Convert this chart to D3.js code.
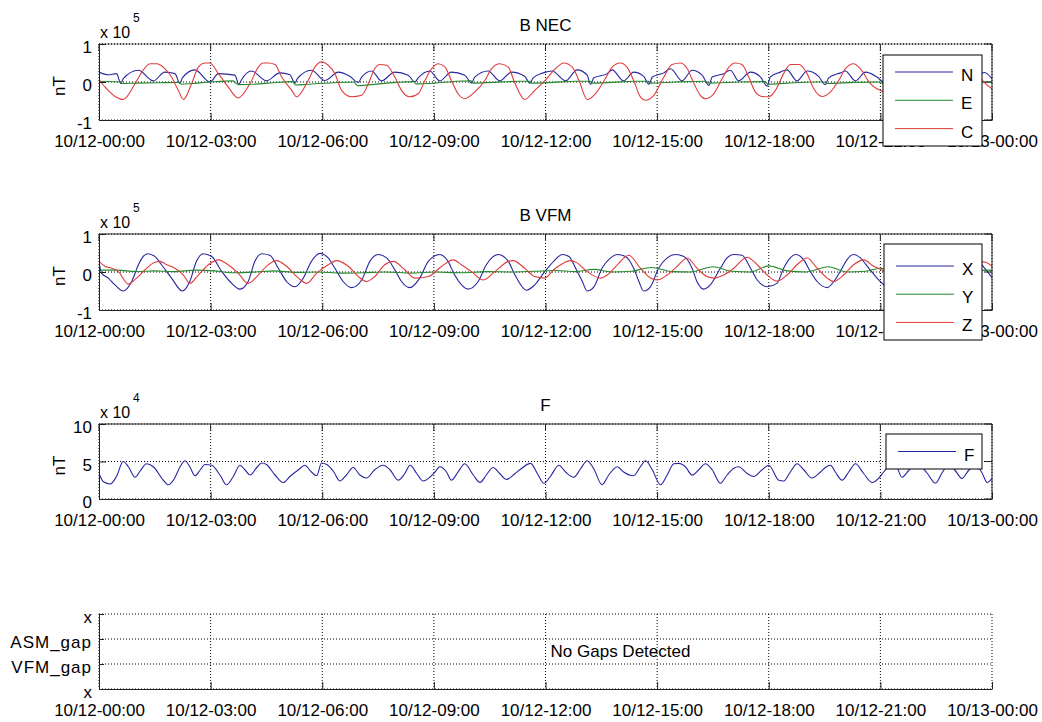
<!DOCTYPE html>
<html>
<head>
<meta charset="utf-8">
<script src="https://cdn.jsdelivr.net/npm/d3@7"></script>
<style>
  body { margin: 0; background: #fff; }
  text { font-family: Arial, "Liberation Sans", Helvetica, sans-serif; fill: #000; }
</style>
</head>
<body>
<svg id="fig" width="1042" height="722"></svg>
<script>
// time axis, hours since 10/12 00:00
const tickHours = [0, 3, 6, 9, 12, 15, 18, 21, 24];
const tickLabels = ["10/12-00:00", "10/12-03:00", "10/12-06:00", "10/12-09:00", "10/12-12:00",
  "10/12-15:00", "10/12-18:00", "10/12-21:00", "10/13-00:00"];

// B NEC, [hour, value x 1e5 nT]
const necN = [[0,0.26],[0.25,0.19],[0.47,0.22],[0.59,-0.04],[0.65,0.09],[1.06,0.31],[1.46,0.03],[1.77,0.26],[2.04,0.22],[2.18,-0.04],[2.24,0.11],[2.58,0.32],[2.98,0.0],[3.21,0.22],[3.65,0.18],[3.76,-0.06],[3.83,0.06],[4.10,0.29],[4.50,0.03],[4.86,0.24],[5.13,0.19],[5.27,-0.03],[5.33,0.09],[5.71,0.31],[6.07,0.04],[6.43,0.26],[6.74,0.15],[6.97,-0.01],[7.06,0.13],[7.33,0.29],[7.59,0.03],[7.95,0.26],[8.31,0.18],[8.49,0.0],[8.58,0.11],[8.89,0.29],[9.16,0.03],[9.47,0.26],[9.83,0.18],[10.01,-0.03],[10.10,0.13],[10.46,0.29],[10.77,0.03],[11.09,0.26],[11.44,0.15],[11.58,-0.03],[11.67,0.11],[11.94,0.24],[12.18,0.29],[12.54,0.03],[12.85,0.32],[13.12,0.18],[13.21,-0.06],[13.30,0.11],[13.66,0.22],[13.79,0.32],[14.10,0.03],[14.37,0.26],[14.64,0.15],[14.78,-0.06],[14.87,0.13],[15.18,0.24],[15.36,0.35],[15.67,0.03],[15.94,0.31],[16.21,0.18],[16.39,-0.09],[16.48,0.13],[16.79,0.22],[16.97,0.31],[17.19,0.03],[17.51,0.26],[17.78,0.13],[17.96,-0.11],[18.04,0.13],[18.31,0.26],[18.49,0.32],[18.76,0.03],[19.03,0.29],[19.34,0.15],[19.52,-0.07],[19.61,0.11],[19.93,0.24],[20.06,0.29],[20.33,0.03],[20.60,0.26],[20.91,0.13],[21.09,0.0],[21.18,0.12],[21.5,0.3],[21.88,0.03],[22.2,0.27],[22.6,0.15],[22.7,-0.05],[22.8,0.1],[23.1,0.3],[23.42,0.03],[23.8,0.25],[24,0.08]];
const necE = [[0,0.02],[0.55,0.0],[0.62,-0.04],[1.0,-0.03],[1.6,-0.02],[2.15,-0.01],[2.22,-0.06],[2.5,-0.04],[3.0,0.0],[3.6,0.03],[3.75,-0.07],[4.1,-0.06],[4.7,-0.02],[5.2,0.01],[5.28,-0.08],[5.6,-0.06],[6.3,-0.02],[6.85,0.0],[6.95,-0.1],[7.3,-0.07],[8.0,-0.01],[8.45,0.01],[8.52,-0.05],[9.0,-0.03],[9.6,0.02],[10.0,0.03],[10.05,-0.03],[10.6,-0.01],[11.3,0.02],[11.58,0.02],[11.62,-0.03],[12.2,-0.01],[12.8,0.02],[13.2,0.02],[13.25,-0.03],[13.8,-0.01],[14.4,0.02],[14.78,0.02],[14.82,-0.03],[15.5,0.0],[16.3,0.02],[16.4,-0.03],[17.2,0.0],[17.9,0.01],[17.98,-0.06],[18.5,-0.03],[19.2,0.0],[19.5,0.0],[19.55,-0.04],[20.3,-0.01],[21.0,0.0],[21.1,-0.06],[22.0,-0.02],[22.7,0.0],[22.75,-0.05],[23.5,-0.02],[24,0.0]];
const necC = [[0,0.06],[0.16,-0.13],[0.43,-0.38],[0.65,-0.46],[0.97,-0.04],[1.15,0.26],[1.37,0.48],[1.55,0.48],[1.77,0.35],[1.95,0.13],[2.13,-0.22],[2.27,-0.46],[2.49,-0.04],[2.67,0.39],[2.85,0.5],[2.98,0.5],[3.21,0.22],[3.47,-0.13],[3.74,-0.42],[4.06,-0.04],[4.28,0.39],[4.41,0.5],[4.55,0.5],[4.73,0.46],[4.91,0.13],[5.18,-0.22],[5.31,-0.39],[5.62,0.04],[5.80,0.39],[5.98,0.53],[6.16,0.44],[6.34,0.22],[6.52,-0.22],[6.79,-0.39],[7.06,-0.35],[7.24,-0.04],[7.41,0.35],[7.55,0.46],[7.73,0.44],[7.95,0.13],[8.13,-0.22],[8.35,-0.39],[8.58,-0.31],[8.76,0.04],[8.94,0.35],[9.12,0.48],[9.30,0.39],[9.47,0.04],[9.65,-0.31],[9.83,-0.44],[10.10,-0.26],[10.37,0.04],[10.55,0.35],[10.77,0.48],[11.00,0.39],[11.18,-0.04],[11.44,-0.46],[11.71,-0.22],[12.0,0.05],[12.27,0.35],[12.49,0.5],[12.72,0.39],[12.90,0.04],[13.12,-0.46],[13.34,-0.31],[13.61,0.09],[13.79,0.39],[14.01,0.5],[14.19,0.39],[14.37,0.04],[14.55,-0.39],[14.69,-0.48],[14.91,-0.35],[15.18,0.13],[15.40,0.46],[15.63,0.5],[15.81,0.35],[15.99,-0.04],[16.16,-0.35],[16.30,-0.44],[16.52,-0.31],[16.75,0.09],[16.93,0.39],[17.10,0.5],[17.28,0.46],[17.46,0.13],[17.64,-0.26],[17.82,-0.38],[18.00,-0.39],[18.18,-0.22],[18.40,0.22],[18.58,0.46],[18.81,0.46],[19.03,0.22],[19.21,-0.18],[19.43,-0.38],[19.66,-0.26],[19.88,0.04],[20.06,0.35],[20.28,0.48],[20.46,0.35],[20.73,-0.04],[20.91,-0.18],[21.09,-0.26],[21.3,-0.4],[21.6,0.0],[21.9,0.45],[22.2,0.3],[22.5,-0.1],[22.75,-0.42],[23.1,0.0],[23.4,0.4],[23.7,0.1],[23.81,-0.03],[24,-0.18]];

// B VFM, [hour, value x 1e5 nT]
const vfmX = [[0,0.26],[0.07,-0.03],[0.25,-0.16],[0.43,-0.34],[0.65,-0.5],[0.88,-0.25],[1.06,0.19],[1.19,0.41],[1.31,0.48],[1.50,0.41],[1.68,0.19],[1.95,-0.16],[2.24,-0.5],[2.44,-0.25],[2.62,0.28],[2.80,0.48],[3.03,0.41],[3.30,0.01],[3.52,-0.25],[3.79,-0.45],[4.01,-0.25],[4.19,0.28],[4.37,0.48],[4.59,0.44],[4.82,0.1],[5.04,-0.25],[5.27,-0.39],[5.49,-0.16],[5.71,0.28],[5.94,0.49],[6.16,0.37],[6.34,0.1],[6.56,-0.25],[6.79,-0.41],[7.06,-0.21],[7.28,0.28],[7.50,0.46],[7.73,0.37],[7.95,0.06],[8.13,-0.25],[8.35,-0.41],[8.62,-0.16],[8.85,0.28],[9.16,0.46],[9.38,0.28],[9.56,-0.08],[9.92,-0.45],[10.19,-0.25],[10.41,0.19],[10.73,0.46],[11.00,0.28],[11.18,-0.08],[11.49,-0.48],[11.71,-0.34],[11.98,0.01],[12.22,0.28],[12.45,0.46],[12.63,0.41],[12.81,0.1],[12.99,-0.25],[13.12,-0.5],[13.30,-0.39],[13.52,0.1],[13.75,0.37],[13.93,0.46],[14.15,0.41],[14.37,0.1],[14.51,-0.25],[14.64,-0.5],[14.82,-0.39],[15.04,0.1],[15.27,0.37],[15.49,0.46],[15.72,0.41],[15.94,0.1],[16.07,-0.25],[16.25,-0.45],[16.43,-0.34],[16.70,0.1],[16.88,0.37],[17.06,0.46],[17.28,0.44],[17.51,0.1],[17.69,-0.21],[17.96,-0.39],[18.22,-0.3],[18.40,0.1],[18.58,0.37],[18.72,0.46],[18.94,0.32],[19.12,0.01],[19.30,-0.25],[19.57,-0.41],[19.75,-0.25],[19.97,0.1],[20.10,0.32],[20.28,0.46],[20.46,0.37],[20.69,0.1],[20.91,-0.16],[21.09,-0.34],[21.2,-0.45],[21.6,0.2],[21.85,0.45],[22.3,0.0],[22.75,-0.45],[23.2,0.2],[23.45,0.45],[23.8,0.1],[24,-0.15]];
const vfmY = [[0,0.05],[0.5,0.05],[1.0,0.01],[1.5,0.03],[2.0,0.01],[2.6,0.05],[3.1,0.03],[3.6,-0.02],[4.2,0.0],[4.7,0.03],[5.3,-0.01],[5.9,0.0],[6.5,-0.03],[7.1,-0.02],[7.7,0.0],[8.4,-0.03],[9.0,0.0],[9.7,-0.02],[10.4,0.01],[11.1,0.0],[11.7,0.02],[12.3,0.04],[12.8,0.01],[13.3,0.07],[13.8,0.0],[14.3,0.02],[14.85,0.12],[15.4,0.01],[15.9,0.0],[16.5,0.14],[17.0,0.02],[17.5,0.0],[18.0,0.16],[18.5,0.03],[19.0,0.0],[19.6,0.14],[20.1,0.0],[20.6,0.02],[21.0,0.1],[21.6,0.0],[22.0,0.02],[22.6,0.1],[23.2,0.0],[23.6,0.04],[24,0.05]];
const vfmZ = [[0,0.28],[0.16,0.15],[0.34,0.1],[0.52,0.01],[0.79,-0.32],[1.01,-0.16],[1.24,0.06],[1.46,0.24],[1.64,0.28],[1.82,0.19],[2.04,0.1],[2.27,-0.08],[2.44,-0.3],[2.67,-0.08],[2.94,0.19],[3.21,0.32],[3.47,0.19],[3.74,-0.03],[4.01,-0.3],[4.28,-0.08],[4.50,0.15],[4.77,0.3],[5.04,0.15],[5.36,-0.16],[5.58,-0.3],[5.85,-0.03],[6.16,0.19],[6.38,0.3],[6.70,0.15],[6.97,-0.12],[7.19,-0.25],[7.41,-0.12],[7.68,0.19],[7.91,0.28],[8.22,0.06],[8.49,-0.16],[8.85,-0.12],[9.21,0.15],[9.52,0.32],[9.74,0.19],[10.01,0.01],[10.33,-0.21],[10.64,0.01],[11.00,0.28],[11.13,0.3],[11.44,0.1],[11.71,-0.12],[11.98,-0.16],[12.22,0.06],[12.49,0.24],[12.67,0.3],[12.85,0.24],[13.12,0.01],[13.48,-0.16],[13.66,-0.08],[13.93,0.19],[14.24,0.44],[14.55,0.1],[14.82,-0.16],[15.0,-0.21],[15.27,-0.08],[15.54,0.15],[15.81,0.37],[16.07,0.1],[16.34,-0.12],[16.52,-0.16],[16.79,-0.08],[17.06,0.1],[17.42,0.39],[17.69,0.19],[17.96,-0.08],[18.22,-0.24],[18.49,-0.08],[18.76,0.19],[19.03,0.37],[19.30,0.1],[19.57,-0.16],[19.75,-0.25],[20.01,-0.08],[20.28,0.19],[20.55,0.32],[20.82,0.15],[21.04,0.06],[21.4,-0.2],[22.1,0.3],[22.9,-0.2],[23.6,0.28],[23.85,0.25],[24,0.15]];

// F, [hour, value x 1e4 nT]
const fScalar = [[0,3.4],[0.12,2.3],[0.30,2.0],[0.47,3.0],[0.65,5.0],[0.79,4.3],[0.97,2.9],[1.10,3.7],[1.28,4.7],[1.46,4.3],[1.73,2.5],[1.86,1.9],[2.00,2.5],[2.18,4.3],[2.31,5.1],[2.44,4.3],[2.58,3.1],[2.71,3.8],[2.85,4.6],[3.03,4.5],[3.25,3.2],[3.43,1.9],[3.61,3.0],[3.79,4.5],[3.92,3.9],[4.06,3.2],[4.24,4.2],[4.37,4.8],[4.50,4.6],[4.73,3.2],[4.95,2.2],[5.13,3.0],[5.36,3.9],[5.53,4.5],[5.71,3.6],[5.85,3.1],[5.98,4.8],[6.12,4.6],[6.30,3.7],[6.47,2.4],[6.65,3.2],[6.83,4.2],[7.01,3.2],[7.19,2.8],[7.41,3.9],[7.64,4.5],[7.82,3.9],[8.04,2.5],[8.22,3.4],[8.36,4.5],[8.54,3.4],[8.71,2.4],[8.89,2.9],[9.03,3.6],[9.16,4.3],[9.34,3.6],[9.47,2.5],[9.65,3.6],[9.83,4.7],[10.06,3.2],[10.24,2.2],[10.41,3.2],[10.59,4.2],[10.77,3.4],[10.95,2.6],[11.18,3.4],[11.31,3.9],[11.60,4.75],[11.78,3.4],[11.96,2.1],[12.13,3.0],[12.36,4.5],[12.54,3.6],[12.76,2.9],[12.94,4.0],[13.12,5.1],[13.30,4.0],[13.52,1.9],[13.70,3.2],[13.93,4.3],[14.10,3.6],[14.37,3.1],[14.55,4.3],[14.69,5.1],[14.87,3.9],[15.09,1.9],[15.27,3.2],[15.45,4.7],[15.58,4.75],[15.76,4.3],[15.94,3.2],[16.12,3.9],[16.30,4.7],[16.48,3.9],[16.70,2.1],[16.88,3.2],[17.06,4.1],[17.19,4.3],[17.42,3.4],[17.60,3.0],[17.82,3.9],[18.00,4.5],[18.27,2.5],[18.40,2.4],[18.58,3.6],[18.76,4.7],[18.94,3.9],[19.16,2.8],[19.39,3.6],[19.52,4.2],[19.66,4.5],[19.79,3.6],[19.97,2.5],[20.15,3.6],[20.33,4.7],[20.55,3.4],[20.78,2.2],[20.96,2.8],[21.09,3.6],[21.27,4.5],[21.40,4.6],[21.58,2.9],[21.76,3.8],[21.98,4.8],[22.25,3.5],[22.48,2.1],[22.66,3.5],[22.84,4.6],[23.01,3.8],[23.19,2.75],[23.37,3.8],[23.55,4.6],[23.73,3.5],[23.87,2.2],[24,2.75]];

// gap panel categories, top to bottom
const gapCats = ["x", "ASM_gap", "VFM_gap", "x"];

const BLUE = "#2626a0", GREEN = "#238a2c", RED = "#e03c3c";

const svg = d3.select("#fig");
const x = d3.scaleLinear().domain([0, 24]).range([99, 992]);
const FS = 17;

const panels = [
  { top: 44, bottom: 120, domain: [-1, 1], yTicks: [-1, 0, 1], title: "B NEC", exp: "5",
    series: [{ d: necN, c: BLUE, n: "N" }, { d: necE, c: GREEN, n: "E" }, { d: necC, c: RED, n: "C" }],
    legend: { x: 883, y: 55, w: 99, h: 91, first: 17, step: 28.3 } },
  { top: 234, bottom: 310, domain: [-1, 1], yTicks: [-1, 0, 1], title: "B VFM", exp: "5",
    series: [{ d: vfmX, c: BLUE, n: "X" }, { d: vfmY, c: GREEN, n: "Y" }, { d: vfmZ, c: RED, n: "Z" }],
    legend: { x: 884, y: 244, w: 98, h: 96, first: 22, step: 28.2 } },
  { top: 424, bottom: 499, domain: [0, 10], yTicks: [0, 5, 10], title: "F", exp: "4",
    series: [{ d: fScalar, c: BLUE, n: "F" }],
    legend: { x: 886, y: 434, w: 96, h: 35, first: 17.5, step: 0 } }
];

function dotted(sel) {
  return sel.attr("stroke", "#000").attr("stroke-width", 1).attr("stroke-dasharray", "1,2");
}

function xAxisLabels(g, bottom) {
  const ax = d3.axisBottom(x).tickValues(tickHours).tickFormat((d, i) => tickLabels[i])
    .tickSizeInner(-7).tickSizeOuter(0).tickPadding(15);
  g.append("g").attr("transform", `translate(0,${bottom})`).call(ax)
    .call(a => a.select(".domain").attr("stroke", "#222"))
    .call(a => a.selectAll("line").attr("stroke", "#222"))
    .call(a => a.selectAll("text").attr("font-size", FS).attr("font-family", null));
}

panels.forEach((p, pi) => {
  const y = d3.scaleLinear().domain(p.domain).range([p.bottom, p.top]);
  const g = svg.append("g");

  // grid
  g.selectAll(null).data(tickHours).join("line")
    .attr("x1", d => x(d)).attr("x2", d => x(d)).attr("y1", p.top).attr("y2", p.bottom)
    .call(dotted);
  g.selectAll(null).data(p.yTicks).join("line")
    .attr("x1", x(0)).attr("x2", x(24)).attr("y1", d => y(d)).attr("y2", d => y(d))
    .call(dotted);

  // series
  const clipId = "clip" + pi;
  svg.append("clipPath").attr("id", clipId).append("rect")
    .attr("x", x(0)).attr("y", p.top).attr("width", x(24) - x(0)).attr("height", p.bottom - p.top);
  const line = d3.line().x(d => x(d[0])).y(d => y(d[1])).curve(d3.curveMonotoneX);
  p.series.forEach(s => {
    g.append("path").datum(s.d).attr("clip-path", `url(#${clipId})`)
      .attr("fill", "none").attr("stroke", s.c).attr("stroke-width", 1.1).attr("d", line);
  });

  // box: top and right with inward ticks
  g.append("line").attr("x1", x(0)).attr("x2", x(24)).attr("y1", p.top).attr("y2", p.top)
    .attr("stroke", pi === 0 ? "#888" : "#222");
  if (pi === 0) g.append("line").attr("x1", x(0)).attr("x2", x(24)).attr("y1", p.top).attr("y2", p.top).call(dotted);
  g.append("line").attr("x1", x(24)).attr("x2", x(24)).attr("y1", p.top).attr("y2", p.bottom).attr("stroke", "#222");
  g.selectAll(null).data(tickHours).join("line")
    .attr("x1", d => x(d)).attr("x2", d => x(d)).attr("y1", p.top).attr("y2", p.top + 7).attr("stroke", "#222");
  g.selectAll(null).data(p.yTicks).join("line")
    .attr("x1", x(24)).attr("x2", x(24) - 7).attr("y1", d => y(d)).attr("y2", d => y(d)).attr("stroke", "#222");

  // left axis
  const ay = d3.axisLeft(y).tickValues(p.yTicks).tickFormat(d => String(d))
    .tickSizeInner(-7).tickSizeOuter(0).tickPadding(7);
  g.append("g").attr("transform", `translate(${x(0)},0)`).call(ay)
    .call(a => a.select(".domain").attr("stroke", "#222"))
    .call(a => a.selectAll("line").attr("stroke", "#222"))
    .call(a => a.selectAll("text").attr("font-size", FS).attr("font-family", null).attr("dy", "0.5em"));

  xAxisLabels(g, p.bottom);

  // labels
  g.append("text").attr("transform", `translate(65,${(p.top + p.bottom) / 2 + 4}) rotate(-90)`)
    .attr("text-anchor", "middle").attr("font-size", FS).text("nT");
  g.append("text").attr("x", 545.5).attr("y", p.top - 13.5).attr("text-anchor", "middle")
    .attr("font-size", FS).text(p.title);
  g.append("text").attr("x", 100).attr("y", p.top - 6).attr("font-size", 16).text("x 10");
  g.append("text").attr("x", 133).attr("y", p.top - 22).attr("font-size", 12).text(p.exp);

  // legend
  const L = p.legend;
  const lg = g.append("g").attr("transform", `translate(${L.x},${L.y})`);
  lg.append("rect").attr("width", L.w).attr("height", L.h).attr("fill", "#fff").attr("stroke", "#000");
  p.series.forEach((s, i) => {
    const yy = L.first + i * L.step;
    lg.append("line").attr("x1", 12).attr("x2", 70).attr("y1", yy).attr("y2", yy).attr("stroke", s.c);
    lg.append("text").attr("x", 78).attr("y", yy + 9).attr("font-size", FS).text(s.n);
  });
});

// gap panel
{
  const top = 614, bottom = 689;
  const y = d3.scalePoint().domain(d3.range(gapCats.length)).range([top, bottom]);
  const g = svg.append("g");
  g.selectAll(null).data(tickHours).join("line")
    .attr("x1", d => x(d)).attr("x2", d => x(d)).attr("y1", top).attr("y2", bottom).call(dotted);
  g.selectAll(null).data(y.domain()).join("line")
    .attr("x1", x(0)).attr("x2", x(24)).attr("y1", d => y(d)).attr("y2", d => y(d)).call(dotted);
  const ay = d3.axisLeft(y).tickFormat(i => gapCats[i]).tickSizeInner(-5).tickSizeOuter(0).tickPadding(7);
  g.append("g").attr("transform", `translate(${x(0)},0)`).call(ay)
    .call(a => a.select(".domain").attr("stroke", "#222"))
    .call(a => a.selectAll("line").attr("stroke", "#222"))
    .call(a => a.selectAll("text").attr("font-size", FS).attr("font-family", null).attr("dy", "0.5em")
      .attr("letter-spacing", i => gapCats[i] === "x" ? 0 : 1));
  xAxisLabels(g, bottom);
  g.append("text").attr("x", 620.5).attr("y", 657).attr("text-anchor", "middle")
    .attr("font-size", FS).text("No Gaps Detected");
}
</script>
</body>
</html>
